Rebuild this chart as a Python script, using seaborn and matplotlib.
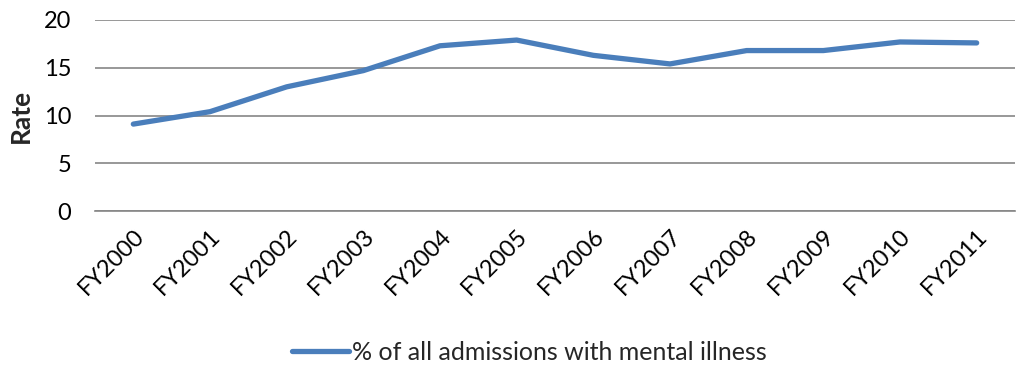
import matplotlib
matplotlib.use("Agg")
import matplotlib.pyplot as plt
import seaborn as sns
import pandas as pd
from matplotlib.lines import Line2D

years = ["FY2000", "FY2001", "FY2002", "FY2003", "FY2004", "FY2005",
         "FY2006", "FY2007", "FY2008", "FY2009", "FY2010", "FY2011"]
rate = [9.1, 10.4, 13.0, 14.7, 17.3, 17.9, 16.3, 15.4, 16.8, 16.8, 17.7, 17.6]
series_name = "% of all admissions with mental illness"
y_ticks = [0, 5, 10, 15, 20]

sns.set_theme(style="white")
plt.rcParams['font.family'] = ['Lato', 'DejaVu Sans']

df = pd.DataFrame({"year": years, "rate": rate, "series": series_name})

fig = plt.figure(figsize=(10.32, 3.66), dpi=100)
ax = fig.add_axes([95/1032, 1-211/366, (1015-95)/1032, (211-20)/366])

sns.lineplot(data=df, x="year", y="rate", hue="series", palette=["#4A7EBB"],
             linewidth=3.8, ax=ax, legend=False, solid_capstyle="round")

ax.set_ylim(0, 20)
ax.set_yticks(y_ticks)
ax.set_xlim(-0.5, len(years) - 0.5)
ax.yaxis.grid(True, color="#868686", linewidth=1.2)
ax.set_axisbelow(True)
for s in ["top", "right", "left"]:
    ax.spines[s].set_visible(False)
ax.spines["bottom"].set_color("#868686")
ax.spines["bottom"].set_linewidth(1.2)
ax.tick_params(axis="both", length=0, labelsize=17, colors="#000000")
ax.tick_params(axis="y", pad=17)
ax.tick_params(axis="x", pad=10)
plt.setp(ax.get_xticklabels(), rotation=45, ha="right", rotation_mode="anchor")
ax.set_xlabel("")
ax.set_ylabel("Rate", fontsize=19, fontweight="bold", labelpad=8)

handle = Line2D([], [], color="#4A7EBB", linewidth=3.8, solid_capstyle="round")
fig.legend([handle], [series_name], loc="center",
           bbox_to_anchor=(529/1032, 1-352/366), frameon=False,
           fontsize=18, handlelength=2.3, handletextpad=0.1)

fig.savefig("out.png", dpi=100)
